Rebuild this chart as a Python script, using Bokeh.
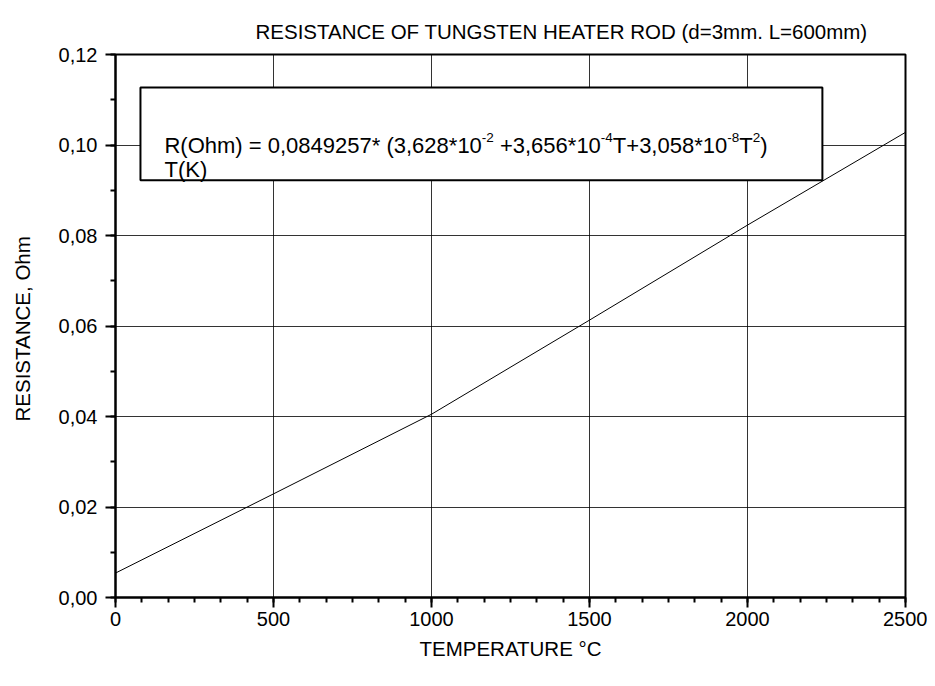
from bokeh.plotting import figure
from bokeh.models import Range1d, BoxAnnotation, Label, CustomJSTickFormatter, SingleIntervalTicker
from bokeh.embed import file_html
from bokeh.resources import INLINE

# ---- data ----
temperature_c = [0, 500, 1000, 1500, 2000, 2500]
resistance_ohm = [0.0054, 0.0229, 0.0405, 0.0613, 0.0823, 0.1028]
x_tick_step = 500
y_tick_step = 0.02
title_text = "RESISTANCE OF TUNGSTEN HEATER  ROD (d=3mm. L=600mm)"
x_label = "TEMPERATURE °C"
y_label = "RESISTANCE,  Ohm"
# (text, is_superscript, leading_space)
formula_parts = [
    ("R(Ohm) = 0,0849257* (3,628*10", False, False), ("-2", True, False),
    ("+3,656*10", False, True), ("-4", True, False),
    ("T+3,058*10", False, False), ("-8", True, False),
    ("T", False, False), ("2", True, False), (")", False, False),
]
formula_line2 = "T(K)"

FONT = "Liberation Sans"
FS = 20
TITLE_FS = 20.5
BOX_FS = 22
SUP_FS = 13.5

# Arial / Liberation Sans advance widths (per 1000 em)
W = {**{d: 556 for d in "0123456789"}, ",": 278, ".": 278, " ": 278, "*": 389, "+": 584,
     "=": 584, "(": 333, ")": 333, "-": 333, "R": 722, "O": 778, "h": 556, "m": 833,
     "T": 611, "K": 667}


def text_width(s, size):
    return sum(W.get(c, 556) for c in s) * size / 1000.0


p = figure(width=927, height=678, output_backend="svg", toolbar_location=None,
           x_range=Range1d(0, 2500), y_range=Range1d(0, 0.12),
           min_border_left=115, min_border_right=22, min_border_top=54, min_border_bottom=81)

p.title.text = title_text
p.title.align = "left"
p.title.offset = 140
p.title.text_font = FONT
p.title.text_font_size = f"{TITLE_FS}px"
p.title.text_font_style = "normal"
p.title.text_color = "black"
p.title.standoff = 24

p.background_fill_color = "white"
p.border_fill_color = "white"
p.outline_line_color = "black"
p.outline_line_width = 2
p.outline_line_alpha = 1

p.xaxis.ticker = SingleIntervalTicker(interval=x_tick_step, num_minor_ticks=6)
p.yaxis.ticker = SingleIntervalTicker(interval=y_tick_step, num_minor_ticks=2)
p.yaxis.formatter = CustomJSTickFormatter(code="return tick.toFixed(2).replace('.', ',');")

for ax in (p.xaxis[0], p.yaxis[0]):
    ax.axis_line_width = 2
    ax.axis_line_color = "black"
    ax.major_tick_line_width = 2
    ax.major_tick_line_color = "black"
    ax.minor_tick_line_width = 2
    ax.minor_tick_line_color = "black"
    ax.major_tick_in = 0
    ax.major_tick_out = 10
    ax.minor_tick_in = 0
    ax.minor_tick_out = 5
    ax.major_label_text_font = FONT
    ax.major_label_text_font_size = f"{FS}px"
    ax.major_label_text_color = "black"
    ax.axis_label_text_font = FONT
    ax.axis_label_text_font_size = f"{TITLE_FS}px"
    ax.axis_label_text_font_style = "normal"
    ax.axis_label_text_color = "black"

p.xaxis.axis_label = x_label
p.yaxis.axis_label = y_label
p.xaxis.major_label_standoff = 4
p.yaxis.major_label_standoff = 8
p.xaxis.axis_label_standoff = 8
p.yaxis.axis_label_standoff = 22

p.xgrid.grid_line_color = "black"
p.ygrid.grid_line_color = "black"
p.xgrid.grid_line_width = 1
p.ygrid.grid_line_width = 1
p.xgrid.grid_line_alpha = 0.8
p.ygrid.grid_line_alpha = 0.8

p.line(temperature_c, resistance_ohm, line_color="black", line_width=1)

box = BoxAnnotation(left=79, right=2237, bottom=0.0922, top=0.1127,
                    fill_color="white", fill_alpha=1.0,
                    line_color="black", line_alpha=1.0, line_width=2)
p.add_layout(box)

x0 = 155
y_line1 = 0.1000
y_line2 = 0.0946
offset = 0.0
for txt, sup, lead in formula_parts:
    size = SUP_FS if sup else BOX_FS
    if lead:
        offset += W[" "] * BOX_FS / 1000.0
    lab = Label(x=x0, y=y_line1, x_offset=offset, y_offset=(8 if sup else 0), text=txt,
                text_font=FONT, text_font_size=f"{size}px", text_color="black",
                text_baseline="alphabetic", text_align="left")
    p.add_layout(lab)
    offset += text_width(txt, size)

p.add_layout(Label(x=x0, y=y_line2, text=formula_line2, text_font=FONT,
                   text_font_size=f"{BOX_FS}px", text_color="black",
                   text_baseline="alphabetic", text_align="left"))

open("out.html", "w").write(file_html(p, INLINE))
